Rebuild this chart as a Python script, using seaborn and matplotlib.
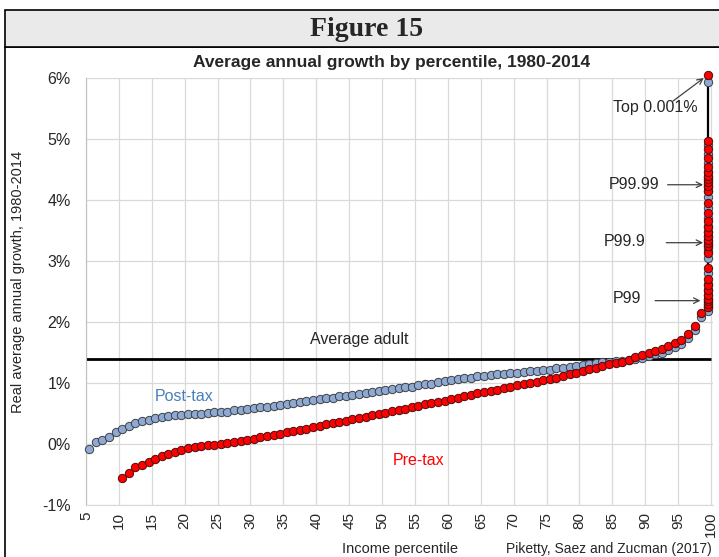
import numpy as np
import pandas as pd
import matplotlib
matplotlib.use("Agg")
import matplotlib.pyplot as plt
from matplotlib.patches import Rectangle
import seaborn as sns

# percentile bins (p to p+1), plotted at bin midpoint
post_pct = list(range(5, 99))
post_tax = [-0.09, 0.04, 0.07, 0.12, 0.20, 0.25, 0.30, 0.34, 0.37, 0.40,
            0.42, 0.45, 0.46, 0.47, 0.48, 0.49, 0.50, 0.50, 0.51, 0.52,
            0.52, 0.53, 0.55, 0.56, 0.57, 0.59, 0.60, 0.61, 0.63, 0.64,
            0.66, 0.67, 0.69, 0.70, 0.72, 0.73, 0.75, 0.76, 0.78, 0.79,
            0.81, 0.82, 0.84, 0.85, 0.87, 0.88, 0.90, 0.91, 0.93, 0.94,
            0.96, 0.98, 0.99, 1.01, 1.03, 1.05, 1.06, 1.08, 1.09, 1.11,
            1.12, 1.13, 1.14, 1.15, 1.16, 1.17, 1.18, 1.19, 1.20, 1.21,
            1.22, 1.24, 1.25, 1.27, 1.28, 1.30, 1.31, 1.33, 1.34, 1.35,
            1.36, 1.36, 1.37, 1.39, 1.41, 1.44, 1.47, 1.50, 1.54, 1.59,
            1.64, 1.73, 1.87, 2.09]

pre_pct = list(range(10, 99))
pre_tax = [-0.56, -0.47, -0.38, -0.34, -0.29, -0.24, -0.20, -0.16, -0.13, -0.10,
           -0.07, -0.05, -0.04, -0.02, -0.01, 0.00, 0.02, 0.035, 0.045, 0.07,
           0.09, 0.11, 0.13, 0.15, 0.17, 0.19, 0.21, 0.23, 0.25, 0.28,
           0.30, 0.32, 0.34, 0.36, 0.38, 0.41, 0.43, 0.45, 0.47, 0.49,
           0.51, 0.54, 0.56, 0.58, 0.60, 0.62, 0.65, 0.67, 0.69, 0.71,
           0.74, 0.76, 0.78, 0.80, 0.83, 0.85, 0.87, 0.89, 0.91, 0.94,
           0.96, 0.98, 1.00, 1.02, 1.05, 1.07, 1.09, 1.12, 1.15, 1.17,
           1.20, 1.23, 1.25, 1.28, 1.31, 1.33, 1.35, 1.38, 1.42, 1.46,
           1.49, 1.52, 1.56, 1.60, 1.66, 1.71, 1.80, 1.94, 2.15]

# top percentile fractiles (P99 ... P99.999), all inside the last bin
top_pre = [2.25, 2.30, 2.34, 2.38, 2.44, 2.52, 2.60, 2.71, 2.88,
           3.13, 3.25, 3.30, 3.35, 3.41, 3.48, 3.56, 3.66, 3.79, 3.95,
           4.14, 4.23, 4.29, 4.34, 4.40, 4.46, 4.54, 4.69, 4.83, 4.97,
           6.05]
top_post = [2.18, 2.24, 2.28, 2.33, 2.38, 2.45, 2.53, 2.63, 2.80,
            3.05, 3.17, 3.22, 3.27, 3.33, 3.40, 3.48, 3.58, 3.71, 3.87,
            4.05, 4.15, 4.21, 4.27, 4.32, 4.38, 4.46, 4.61, 4.75, 4.90,
            5.93]
top_bin = 99

avg_adult = 1.40
x_ticks = list(range(5, 101, 5))
y_ticks = list(range(-1, 7))

post_df = pd.DataFrame({"x": np.array(post_pct + [top_bin] * len(top_post)) + 0.5,
                        "growth": post_tax + top_post})
pre_df = pd.DataFrame({"x": np.array(pre_pct + [top_bin] * len(top_pre)) + 0.5,
                       "growth": pre_tax + top_pre})
top_df = pd.DataFrame({"x": [top_bin + 0.5] * len(top_pre), "growth": top_pre})

sns.set_style("whitegrid")
plt.rcParams["font.family"] = ["Liberation Sans", "DejaVu Sans"]

fig = plt.figure(figsize=(7.19, 5.57), dpi=100)

# header / frame
fig.patches.append(Rectangle((5 / 719, -0.01), 1.0, 1 - 47 / 557 + 0.01,
                             transform=fig.transFigure, fill=False,
                             edgecolor="black", linewidth=1.2, zorder=0))
fig.patches.append(Rectangle((5 / 719, 1 - 47 / 557), 1.0, 37 / 557,
                             transform=fig.transFigure, facecolor="#EAEAEA",
                             edgecolor="black", linewidth=1.2, zorder=0))
fig.text(367 / 719, 1 - 30 / 557, "Figure 15", ha="center", va="center",
         fontsize=20, fontweight="bold", family=["Liberation Serif", "DejaVu Serif"])

ax = fig.add_axes([86 / 719, 1 - 505 / 557, 627 / 719, 427 / 557])
ax.set_facecolor("white")

sns.lineplot(data=top_df, x="x", y="growth", color="black", linewidth=1.6,
             ax=ax, zorder=2, sort=False, estimator=None)
sns.scatterplot(data=post_df, x="x", y="growth", color="#8EAAD4",
                edgecolor="#404040", linewidth=0.7, s=36, ax=ax, zorder=3,
                clip_on=False)
sns.scatterplot(data=pre_df, x="x", y="growth", color="#FF0000",
                edgecolor="#4a1010", linewidth=0.7, s=36, ax=ax, zorder=4,
                clip_on=False)

ax.hlines(avg_adult, x_ticks[0], x_ticks[-1], color="black", linewidth=2, zorder=2)

ax.set_xlim(5, 100.3)
ax.set_ylim(-1, 6)
ax.set_xticks(x_ticks)
ax.set_xticklabels([str(t) for t in x_ticks], rotation=90, fontsize=11)
ax.set_yticks(y_ticks)
ax.set_yticklabels([f"{t}%" for t in y_ticks], fontsize=11.5)
ax.tick_params(axis="y", pad=11, length=0)
ax.tick_params(axis="x", pad=5, length=0)
ax.grid(True, color="#D9D9D9", linewidth=0.9)
ax.set_xlabel("")
ax.set_ylabel("")
for side in ["top", "right"]:
    ax.spines[side].set_visible(False)
ax.spines["left"].set_color("#BFBFBF")
ax.spines["bottom"].set_color("#D9D9D9")

# annotations
ax.text(91.5, 5.52, "Top 0.001%", ha="center", va="center", fontsize=11.5)
ax.text(88.3, 4.25, "P99.99", ha="center", va="center", fontsize=11.5)
ax.text(86.9, 3.32, "P99.9", ha="center", va="center", fontsize=11.5)
ax.text(87.2, 2.38, "P99", ha="center", va="center", fontsize=11.5)
arrow = dict(arrowstyle="->", color="#404040", lw=0.9, shrinkA=0, shrinkB=0)
ax.annotate("", xy=(98.9, 6.0), xytext=(94.2, 5.62), arrowprops=arrow)
ax.annotate("", xy=(98.8, 4.25), xytext=(93.4, 4.25), arrowprops=arrow)
ax.annotate("", xy=(98.8, 3.30), xytext=(93.2, 3.30), arrowprops=arrow)
ax.annotate("", xy=(98.4, 2.35), xytext=(91.5, 2.35), arrowprops=arrow)

ax.text(46.6, 1.71, "Average adult", ha="center", va="center", fontsize=11.5)
ax.text(19.9, 0.78, "Post-tax", ha="center", va="center", fontsize=11.5, color="#4A7EBB")
ax.text(55.5, -0.27, "Pre-tax", ha="center", va="center", fontsize=11.5, color="#FF0000")

fig.text(392 / 719, 1 - 63 / 557, "Average annual growth by percentile, 1980-2014",
         ha="center", va="center", fontsize=12.5, fontweight="bold")
fig.text(18 / 719, 1 - 282 / 557, "Real average annual growth, 1980-2014",
         ha="center", va="center", rotation=90, fontsize=10.5)
fig.text(400 / 719, 1 - 549 / 557, "Income percentile", ha="center", va="center",
         fontsize=10.5)
fig.text(712 / 719, 1 - 549 / 557, "Piketty, Saez and Zucman (2017)", ha="right",
         va="center", fontsize=10)

fig.savefig("out.png", dpi=100)
